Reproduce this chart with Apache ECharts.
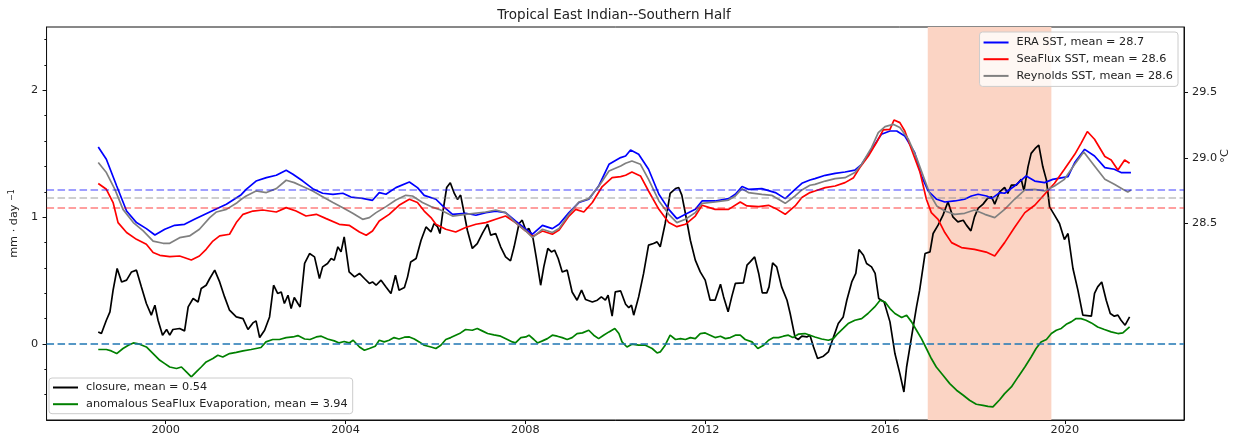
<!DOCTYPE html>
<html>
<head>
<meta charset="utf-8">
<title>Tropical East Indian--Southern Half</title>
<script src="https://cdn.jsdelivr.net/npm/echarts@6/dist/echarts.min.js"></script>
<style>
  html, body { margin: 0; padding: 0; background: #fff; }
  #chart { width: 1235px; height: 438px; }
</style>
</head>
<body>
<div id="chart"></div>
<script>
// ---- data: [decimal year, value] ----
// SST series (°C, right axis)
const eraSST = [[1998.50,29.084],[1998.68,28.99],[1998.91,28.786],[1999.13,28.595],[1999.35,28.507],[1999.57,28.461],[1999.76,28.412],[1999.98,28.456],[2000.20,28.486],[2000.42,28.494],[2000.64,28.532],[2000.98,28.588],[2001.35,28.647],[2001.68,28.72],[2001.79,28.761],[2002.01,28.824],[2002.24,28.85],[2002.46,28.868],[2002.68,28.906],[2002.83,28.876],[2003.05,28.824],[2003.27,28.766],[2003.49,28.731],[2003.72,28.723],[2003.94,28.731],[2004.12,28.702],[2004.38,28.692],[2004.60,28.677],[2004.75,28.736],[2004.90,28.723],[2005.12,28.774],[2005.42,28.817],[2005.60,28.774],[2005.75,28.715],[2006.01,28.685],[2006.16,28.634],[2006.38,28.57],[2006.67,28.578],[2006.90,28.563],[2007.12,28.583],[2007.34,28.595],[2007.56,28.583],[2007.78,28.519],[2008.01,28.456],[2008.16,28.418],[2008.38,28.486],[2008.60,28.461],[2008.75,28.494],[2008.97,28.583],[2009.19,28.66],[2009.41,28.685],[2009.63,28.786],[2009.86,28.952],[2010.12,29.003],[2010.23,29.015],[2010.34,29.061],[2010.52,29.028],[2010.74,28.914],[2010.97,28.723],[2011.19,28.608],[2011.37,28.537],[2011.56,28.57],[2011.78,28.608],[2011.93,28.672],[2012.22,28.672],[2012.52,28.69],[2012.67,28.723],[2012.82,28.782],[2012.96,28.761],[2013.26,28.766],[2013.56,28.736],[2013.78,28.69],[2014.00,28.761],[2014.15,28.807],[2014.33,28.832],[2014.44,28.843],[2014.67,28.868],[2014.89,28.883],[2015.11,28.893],[2015.33,28.908],[2015.48,28.952],[2015.70,29.066],[2015.92,29.181],[2016.11,29.206],[2016.26,29.206],[2016.44,29.168],[2016.66,29.041],[2016.81,28.863],[2016.96,28.748],[2017.15,28.685],[2017.33,28.664],[2017.55,28.672],[2017.77,28.685],[2017.92,28.71],[2018.07,28.723],[2018.26,28.71],[2018.37,28.69],[2018.55,28.736],[2018.66,28.731],[2018.88,28.786],[2019.14,28.863],[2019.33,28.824],[2019.55,28.812],[2019.73,28.837],[2020.07,28.858],[2020.22,28.965],[2020.44,29.066],[2020.66,29.015],[2020.89,28.927],[2021.10,28.914],[2021.25,28.889],[2021.47,28.889]];

const seafluxSST = [[1998.50,28.805],[1998.68,28.761],[1998.83,28.66],[1998.94,28.507],[1999.13,28.431],[1999.35,28.379],[1999.57,28.341],[1999.72,28.278],[1999.87,28.257],[2000.09,28.247],[2000.31,28.252],[2000.57,28.221],[2000.75,28.252],[2000.90,28.303],[2001.05,28.366],[2001.20,28.405],[2001.42,28.418],[2001.57,28.507],[2001.72,28.57],[2001.94,28.595],[2002.16,28.603],[2002.46,28.588],[2002.68,28.621],[2002.90,28.595],[2003.12,28.557],[2003.35,28.57],[2003.57,28.537],[2003.86,28.494],[2004.08,28.486],[2004.31,28.435],[2004.46,28.41],[2004.60,28.443],[2004.75,28.519],[2004.97,28.57],[2005.19,28.639],[2005.42,28.685],[2005.60,28.66],[2005.75,28.595],[2005.90,28.545],[2006.01,28.494],[2006.23,28.456],[2006.45,28.435],[2006.67,28.469],[2006.90,28.494],[2007.12,28.507],[2007.34,28.532],[2007.56,28.557],[2007.78,28.507],[2008.01,28.443],[2008.16,28.40],[2008.38,28.443],[2008.60,28.418],[2008.75,28.45],[2008.97,28.557],[2009.12,28.608],[2009.30,28.588],[2009.49,28.66],[2009.71,28.782],[2009.93,28.85],[2010.12,28.858],[2010.23,28.868],[2010.37,28.893],[2010.56,28.863],[2010.74,28.748],[2010.97,28.608],[2011.19,28.507],[2011.37,28.476],[2011.56,28.494],[2011.78,28.557],[2011.93,28.639],[2012.22,28.608],[2012.52,28.608],[2012.78,28.664],[2012.93,28.634],[2013.19,28.629],[2013.41,28.639],[2013.60,28.608],[2013.78,28.57],[2014.00,28.634],[2014.15,28.698],[2014.33,28.736],[2014.44,28.748],[2014.67,28.774],[2014.89,28.786],[2015.11,28.812],[2015.30,28.85],[2015.44,28.927],[2015.63,29.015],[2015.81,29.118],[2015.96,29.214],[2016.11,29.219],[2016.20,29.29],[2016.33,29.27],[2016.44,29.206],[2016.59,29.066],[2016.78,28.889],[2016.92,28.685],[2017.03,28.583],[2017.18,28.532],[2017.33,28.431],[2017.48,28.354],[2017.70,28.316],[2017.99,28.303],[2018.25,28.282],[2018.44,28.252],[2018.66,28.354],[2018.88,28.469],[2019.11,28.583],[2019.33,28.639],[2019.55,28.723],[2019.77,28.807],[2019.99,28.914],[2020.22,29.028],[2020.36,29.112],[2020.50,29.202],[2020.66,29.143],[2020.89,29.011],[2021.03,28.985],[2021.18,28.908],[2021.33,28.985],[2021.44,28.96]];

const reynoldsSST = [[1998.50,28.965],[1998.68,28.889],[1998.87,28.761],[1999.05,28.608],[1999.28,28.507],[1999.50,28.443],[1999.72,28.366],[1999.94,28.349],[2000.09,28.349],[2000.31,28.392],[2000.53,28.405],[2000.75,28.456],[2000.98,28.545],[2001.13,28.588],[2001.35,28.608],[2001.57,28.654],[2001.68,28.685],[2001.79,28.71],[2002.01,28.748],[2002.24,28.736],[2002.46,28.766],[2002.68,28.83],[2002.86,28.812],[2003.05,28.782],[2003.27,28.748],[2003.49,28.705],[2003.72,28.66],[2003.94,28.621],[2004.16,28.578],[2004.38,28.532],[2004.53,28.545],[2004.68,28.583],[2004.90,28.629],[2005.12,28.679],[2005.34,28.715],[2005.49,28.71],[2005.71,28.66],[2005.90,28.629],[2006.08,28.608],[2006.38,28.557],[2006.67,28.57],[2007.12,28.588],[2007.34,28.603],[2007.56,28.583],[2007.78,28.507],[2008.01,28.443],[2008.16,28.392],[2008.38,28.456],[2008.60,28.431],[2008.75,28.461],[2008.97,28.57],[2009.19,28.664],[2009.41,28.69],[2009.63,28.782],[2009.86,28.901],[2010.12,28.939],[2010.23,28.96],[2010.37,28.977],[2010.56,28.952],[2010.74,28.837],[2010.97,28.672],[2011.19,28.57],[2011.37,28.507],[2011.56,28.532],[2011.78,28.583],[2011.93,28.654],[2012.22,28.664],[2012.52,28.679],[2012.67,28.71],[2012.82,28.766],[2012.96,28.736],[2013.26,28.723],[2013.48,28.715],[2013.63,28.685],[2013.78,28.654],[2014.00,28.71],[2014.15,28.756],[2014.33,28.792],[2014.44,28.799],[2014.67,28.824],[2014.89,28.843],[2015.11,28.85],[2015.33,28.889],[2015.48,28.952],[2015.70,29.079],[2015.85,29.194],[2016.00,29.24],[2016.18,29.257],[2016.33,29.232],[2016.52,29.143],[2016.70,29.003],[2016.85,28.863],[2017.00,28.723],[2017.15,28.634],[2017.33,28.595],[2017.55,28.57],[2017.77,28.578],[2017.99,28.603],[2018.22,28.57],[2018.44,28.545],[2018.66,28.608],[2018.88,28.685],[2019.11,28.756],[2019.33,28.761],[2019.55,28.748],[2019.77,28.786],[2019.99,28.837],[2020.22,28.952],[2020.42,29.046],[2020.66,28.939],[2020.89,28.837],[2021.10,28.799],[2021.29,28.761],[2021.40,28.74],[2021.47,28.756]];

// water-budget series (mm/day, left axis)
const closure = [[1998.50,0.095],[1998.57,0.082],[1998.68,0.187],[1998.76,0.253],[1998.83,0.424],[1998.92,0.595],[1999.02,0.489],[1999.13,0.503],[1999.24,0.568],[1999.35,0.582],[1999.46,0.45],[1999.57,0.319],[1999.68,0.227],[1999.76,0.305],[1999.83,0.187],[1999.93,0.069],[2000.02,0.114],[2000.09,0.069],[2000.16,0.114],[2000.31,0.122],[2000.42,0.103],[2000.50,0.292],[2000.61,0.358],[2000.72,0.331],[2000.79,0.437],[2000.90,0.463],[2000.98,0.516],[2001.09,0.582],[2001.20,0.489],[2001.31,0.371],[2001.42,0.266],[2001.57,0.213],[2001.72,0.20],[2001.83,0.114],[2001.94,0.166],[2002.01,0.182],[2002.09,0.05],[2002.20,0.108],[2002.31,0.213],[2002.40,0.463],[2002.49,0.398],[2002.57,0.41],[2002.64,0.319],[2002.72,0.384],[2002.79,0.279],[2002.86,0.366],[2002.94,0.319],[2002.99,0.292],[2003.09,0.635],[2003.20,0.713],[2003.31,0.687],[2003.42,0.516],[2003.49,0.608],[2003.60,0.635],[2003.68,0.674],[2003.75,0.661],[2003.83,0.766],[2003.90,0.726],[2003.97,0.845],[2004.08,0.568],[2004.20,0.529],[2004.31,0.556],[2004.42,0.516],[2004.53,0.477],[2004.60,0.489],[2004.68,0.463],[2004.79,0.503],[2004.90,0.45],[2005.01,0.398],[2005.11,0.542],[2005.19,0.424],[2005.31,0.445],[2005.38,0.529],[2005.45,0.647],[2005.57,0.674],[2005.68,0.818],[2005.79,0.923],[2005.90,0.884],[2005.97,0.95],[2006.05,0.923],[2006.10,0.871],[2006.16,1.029],[2006.25,1.234],[2006.33,1.271],[2006.42,1.187],[2006.49,1.14],[2006.56,1.174],[2006.64,1.029],[2006.71,0.897],[2006.82,0.753],[2006.93,0.792],[2007.05,0.876],[2007.16,0.945],[2007.23,0.858],[2007.34,0.871],[2007.45,0.766],[2007.56,0.687],[2007.67,0.655],[2007.75,0.766],[2007.86,0.95],[2007.93,0.976],[2008.01,0.897],[2008.08,0.911],[2008.17,0.832],[2008.24,0.687],[2008.34,0.463],[2008.41,0.608],[2008.50,0.753],[2008.58,0.726],[2008.65,0.74],[2008.73,0.674],[2008.82,0.568],[2008.93,0.582],[2009.04,0.41],[2009.15,0.345],[2009.25,0.424],[2009.34,0.35],[2009.49,0.331],[2009.60,0.345],[2009.69,0.371],[2009.78,0.345],[2009.84,0.384],[2009.93,0.219],[2010.00,0.41],[2010.12,0.418],[2010.23,0.313],[2010.30,0.287],[2010.36,0.305],[2010.41,0.227],[2010.52,0.371],[2010.63,0.556],[2010.74,0.779],[2010.85,0.792],[2010.93,0.805],[2011.00,0.766],[2011.11,0.95],[2011.22,1.187],[2011.34,1.226],[2011.41,1.234],[2011.48,1.174],[2011.56,1.029],[2011.67,0.818],[2011.78,0.661],[2011.89,0.568],[2012.00,0.503],[2012.11,0.345],[2012.22,0.345],[2012.34,0.471],[2012.41,0.371],[2012.51,0.253],[2012.59,0.371],[2012.67,0.477],[2012.85,0.482],[2012.93,0.621],[2013.00,0.647],[2013.10,0.687],[2013.19,0.556],[2013.27,0.403],[2013.37,0.403],[2013.42,0.45],[2013.50,0.639],[2013.59,0.608],[2013.70,0.45],[2013.82,0.345],[2013.89,0.24],[2014.00,0.05],[2014.07,0.035],[2014.15,0.061],[2014.26,0.055],[2014.33,0.069],[2014.41,-0.024],[2014.50,-0.115],[2014.63,-0.097],[2014.74,-0.063],[2014.85,0.05],[2014.96,0.161],[2015.07,0.213],[2015.15,0.345],[2015.26,0.489],[2015.35,0.556],[2015.42,0.745],[2015.52,0.70],[2015.59,0.635],[2015.70,0.608],[2015.78,0.556],[2015.86,0.358],[2015.98,0.331],[2016.11,0.174],[2016.22,-0.076],[2016.33,-0.234],[2016.42,-0.379],[2016.48,-0.182],[2016.59,0.055],[2016.70,0.292],[2016.77,0.424],[2016.89,0.713],[2017.00,0.726],[2017.07,0.871],[2017.18,0.937],[2017.29,1.016],[2017.40,1.121],[2017.51,1.002],[2017.62,0.963],[2017.74,0.976],[2017.81,0.937],[2017.91,0.892],[2017.99,1.002],[2018.07,1.069],[2018.18,1.103],[2018.28,1.148],[2018.37,1.16],[2018.44,1.103],[2018.55,1.2],[2018.66,1.234],[2018.73,1.187],[2018.81,1.253],[2018.92,1.253],[2019.03,1.298],[2019.09,1.208],[2019.18,1.397],[2019.25,1.503],[2019.34,1.542],[2019.42,1.568],[2019.51,1.397],[2019.59,1.292],[2019.66,1.081],[2019.77,1.016],[2019.88,0.95],[2019.99,0.824],[2020.07,0.871],[2020.18,0.595],[2020.29,0.424],[2020.40,0.227],[2020.59,0.219],[2020.66,0.398],[2020.73,0.45],[2020.82,0.489],[2020.92,0.345],[2021.01,0.24],[2021.10,0.219],[2021.18,0.227],[2021.25,0.187],[2021.34,0.148],[2021.44,0.213]];

const evapAnomaly = [[1998.50,-0.044],[1998.68,-0.044],[1998.79,-0.055],[1998.91,-0.076],[1999.05,-0.036],[1999.17,-0.010],[1999.28,0.008],[1999.42,-0.002],[1999.57,-0.024],[1999.72,-0.076],[1999.87,-0.129],[1999.98,-0.155],[2000.09,-0.182],[2000.24,-0.194],[2000.35,-0.182],[2000.46,-0.221],[2000.57,-0.260],[2000.68,-0.221],[2000.79,-0.182],[2000.90,-0.142],[2001.05,-0.115],[2001.16,-0.089],[2001.27,-0.103],[2001.42,-0.076],[2001.57,-0.067],[2001.72,-0.055],[2001.90,-0.044],[2002.12,-0.028],[2002.23,0.016],[2002.38,0.035],[2002.53,0.035],[2002.68,0.050],[2002.83,0.055],[2002.94,0.066],[2003.09,0.039],[2003.21,0.035],[2003.35,0.055],[2003.46,0.061],[2003.60,0.039],[2003.75,0.024],[2003.86,0.008],[2003.97,0.019],[2004.08,0.008],[2004.17,0.029],[2004.31,-0.024],[2004.42,-0.050],[2004.53,-0.036],[2004.66,-0.018],[2004.75,0.029],[2004.86,0.016],[2004.97,0.029],[2005.08,0.050],[2005.19,0.039],[2005.31,0.053],[2005.42,0.055],[2005.53,0.039],[2005.64,0.016],[2005.75,-0.010],[2005.90,-0.024],[2006.01,-0.036],[2006.12,-0.010],[2006.23,0.035],[2006.34,0.050],[2006.45,0.069],[2006.56,0.087],[2006.67,0.114],[2006.82,0.108],[2006.93,0.122],[2007.04,0.103],[2007.16,0.082],[2007.30,0.071],[2007.45,0.061],[2007.60,0.035],[2007.71,0.016],[2007.78,0.008],[2007.90,0.050],[2008.01,0.055],[2008.08,0.069],[2008.19,0.035],[2008.27,0.008],[2008.38,0.024],[2008.49,0.042],[2008.60,0.069],[2008.71,0.061],[2008.82,0.050],[2008.93,0.035],[2009.04,0.050],[2009.15,0.082],[2009.27,0.087],[2009.41,0.108],[2009.52,0.069],[2009.63,0.042],[2009.74,0.069],[2009.86,0.095],[2009.99,0.122],[2010.08,0.082],[2010.15,0.016],[2010.26,-0.024],[2010.37,-0.002],[2010.52,-0.010],[2010.67,-0.010],[2010.82,-0.036],[2010.93,-0.071],[2011.00,-0.063],[2011.11,-0.010],[2011.22,0.069],[2011.34,0.035],[2011.45,0.042],[2011.56,0.035],[2011.67,0.050],[2011.78,0.042],[2011.89,0.082],[2012.00,0.087],[2012.11,0.069],[2012.22,0.050],[2012.34,0.061],[2012.45,0.042],[2012.56,0.050],[2012.67,0.069],[2012.78,0.069],[2012.89,0.035],[2013.04,0.016],[2013.17,-0.036],[2013.30,-0.010],[2013.41,0.029],[2013.52,0.050],[2013.63,0.050],[2013.74,0.061],[2013.85,0.069],[2013.95,0.050],[2014.07,0.077],[2014.22,0.082],[2014.33,0.069],[2014.44,0.055],[2014.59,0.039],[2014.74,0.029],[2014.85,0.042],[2014.95,0.082],[2015.07,0.122],[2015.18,0.161],[2015.33,0.187],[2015.48,0.200],[2015.62,0.240],[2015.77,0.292],[2015.89,0.345],[2016.00,0.331],[2016.11,0.279],[2016.22,0.240],[2016.37,0.208],[2016.48,0.227],[2016.59,0.174],[2016.70,0.108],[2016.81,0.042],[2016.92,-0.036],[2017.03,-0.115],[2017.14,-0.182],[2017.29,-0.247],[2017.44,-0.313],[2017.59,-0.365],[2017.74,-0.405],[2017.88,-0.444],[2018.03,-0.476],[2018.18,-0.484],[2018.29,-0.492],[2018.40,-0.497],[2018.55,-0.440],[2018.66,-0.392],[2018.81,-0.339],[2018.96,-0.260],[2019.11,-0.182],[2019.25,-0.103],[2019.36,-0.036],[2019.47,0.016],[2019.59,0.035],[2019.70,0.082],[2019.81,0.108],[2019.92,0.122],[2020.03,0.155],[2020.14,0.174],[2020.25,0.200],[2020.36,0.200],[2020.47,0.187],[2020.59,0.166],[2020.73,0.134],[2020.88,0.114],[2021.03,0.095],[2021.18,0.082],[2021.29,0.087],[2021.44,0.134]];

// reference levels and highlighted period
const sstMeanLevels = [28.757, 28.620, 28.698];   // ERA, SeaFlux, Reynolds
const shadedPeriod = [2016.95, 2019.70];

// axis ranges and tick values
const yearRange = [1997.35, 2022.65];
const fluxRange = [-0.6, 2.5];
const sstRange = [27.0, 30.0];
const yearTicks = [2000, 2004, 2008, 2012, 2016, 2020];
const fluxTicks = [0, 1, 2];
const fluxMinorTicks = [-0.4, -0.2, 0.2, 0.4, 0.6, 0.8, 1.2, 1.4, 1.6, 1.8, 2.2, 2.4];
const sstTicks = [28.5, 29.0, 29.5];

const seriesNames = [
  'ERA SST, mean = 28.7',
  'SeaFlux SST, mean = 28.6',
  'Reynolds SST, mean = 28.6',
  'closure, mean = 0.54',
  'anomalous SeaFlux Evaporation, mean = 3.94'
];

const FONT = 'DejaVu Sans';
const INK = '#222';
const FS = 11.25;     // tick labels, legend, axis names
const LW = 1.7;       // data line width

const chart = echarts.init(document.getElementById('chart'), null, { renderer: 'canvas' });

function meanLine(value, color) {
  return {
    symbol: ['none', 'none'],
    silent: true,
    animation: false,
    label: { show: false },
    emphasis: { disabled: true },
    lineStyle: { color: color, type: [7.5, 3.5], width: 1.6 },
    data: [{ yAxis: value }]
  };
}

function lineSeries(name, data, color, yAxisIndex, z, extra) {
  return Object.assign({
    name: name,
    type: 'line',
    data: data,
    xAxisIndex: 0,
    yAxisIndex: yAxisIndex,
    showSymbol: false,
    symbol: 'none',
    smooth: false,
    z: z,
    color: color,
    lineStyle: { color: color, width: LW },
    emphasis: { disabled: true },
    animation: false
  }, extra || {});
}

const legendCommon = {
  orient: 'vertical',
  icon: 'rect',
  itemWidth: 25,
  itemHeight: 2,
  itemGap: 3.7,
  selectedMode: false,
  backgroundColor: 'rgba(255,255,255,0.8)',
  borderColor: '#cccccc',
  borderWidth: 1,
  borderRadius: 3,
  textStyle: { fontFamily: FONT, fontSize: FS, color: INK, lineHeight: 13, padding: [0, 0, 0, 3] }
};

const option = {
  animation: false,
  backgroundColor: '#ffffff',
  title: {
    text: 'Tropical East Indian--Southern Half',
    left: 614,
    top: 8,
    textAlign: 'center',
    padding: 0,
    textStyle: { fontFamily: FONT, fontSize: 13.5, fontWeight: 'normal', color: INK }
  },
  grid: {
    left: 44, right: 51, top: 27, bottom: 18,
    show: true, borderColor: '#111', borderWidth: 1, backgroundColor: 'transparent'
  },
  legend: [
    Object.assign({}, legendCommon, {
      data: seriesNames.slice(0, 3),
      right: 57, top: 32,
      padding: [4, 5, 4, 4]
    }),
    Object.assign({}, legendCommon, {
      data: seriesNames.slice(3),
      left: 49, top: 378,
      padding: [3, 5, 3, 4]
    })
  ],
  xAxis: {
    type: 'value',
    min: yearRange[0], max: yearRange[1],
    axisLine: { show: true, onZero: false, lineStyle: { color: '#111', width: 1 } },
    axisTick: { show: true, length: 4, customValues: yearTicks, lineStyle: { color: '#111' } },
    axisLabel: {
      customValues: yearTicks, margin: 5,
      formatter: v => String(v),
      fontFamily: FONT, fontSize: FS, color: INK
    },
    splitLine: { show: false }
  },
  yAxis: [
    {
      type: 'value', position: 'left',
      min: fluxRange[0], max: fluxRange[1],
      name: 'mm · day {sup|−1}',
      nameLocation: 'middle', nameGap: 24.5, nameRotate: 90,
      nameTextStyle: {
        fontFamily: FONT, fontSize: FS, color: INK,
        rich: { sup: { fontFamily: FONT, fontSize: 8, color: INK, verticalAlign: 'top', padding: [0, 0, 5, 0] } }
      },
      axisLine: { show: true, onZero: false, lineStyle: { color: '#111', width: 1 } },
      axisTick: { show: true, length: 4, customValues: fluxTicks, lineStyle: { color: '#111' } },
      axisLabel: {
        customValues: fluxTicks, margin: 8.5,
        formatter: v => String(v),
        fontFamily: FONT, fontSize: FS, color: INK
      },
      splitLine: { show: false }
    },
    {
      type: 'value', position: 'right',
      min: sstRange[0], max: sstRange[1],
      axisLine: { show: true, onZero: false, lineStyle: { color: '#111', width: 1 } },
      axisTick: { show: true, length: 4, customValues: sstTicks, lineStyle: { color: '#111' } },
      axisLabel: {
        customValues: sstTicks, margin: 8,
        formatter: v => v.toFixed(1),
        fontFamily: FONT, fontSize: FS, color: INK
      },
      splitLine: { show: false }
    },
    {
      // minor ticks of the left axis
      type: 'value', position: 'left',
      min: fluxRange[0], max: fluxRange[1],
      axisLine: { show: false, onZero: false },
      axisTick: { show: true, length: 2.2, customValues: fluxMinorTicks, lineStyle: { color: '#111' } },
      axisLabel: { show: false },
      splitLine: { show: false }
    }
  ],
  graphic: [
    {
      type: 'text',
      x: 1225, y: 156,
      rotation: Math.PI / 2,
      style: {
        text: '°C', fontFamily: FONT, fontSize: FS, fill: INK,
        align: 'center', verticalAlign: 'middle'
      }
    }
  ],
  series: [
    // shaded period, drawn beneath all lines
    {
      name: 'period',
      type: 'line',
      data: [],
      yAxisIndex: 0,
      z: 0,
      silent: true,
      markArea: {
        silent: true,
        itemStyle: { color: 'rgb(251,212,196)' },
        data: [[{ xAxis: shadedPeriod[0] }, { xAxis: shadedPeriod[1] }]]
      }
    },
    lineSeries(seriesNames[3], closure, '#000000', 0, 2),
    lineSeries(seriesNames[4], evapAnomaly, '#008000', 0, 2, {
      markLine: meanLine(0, '#1f77b4')
    }),
    lineSeries(seriesNames[0], eraSST, '#0000ff', 1, 3, {
      markLine: meanLine(sstMeanLevels[0], 'rgba(0,0,255,0.5)')
    }),
    lineSeries(seriesNames[1], seafluxSST, '#ff0000', 1, 3, {
      markLine: meanLine(sstMeanLevels[1], 'rgba(255,0,0,0.5)')
    }),
    lineSeries(seriesNames[2], reynoldsSST, '#808080', 1, 3, {
      markLine: meanLine(sstMeanLevels[2], 'rgba(128,128,128,0.5)')
    })
  ]
};

chart.setOption(option);
</script>
</body>
</html>
